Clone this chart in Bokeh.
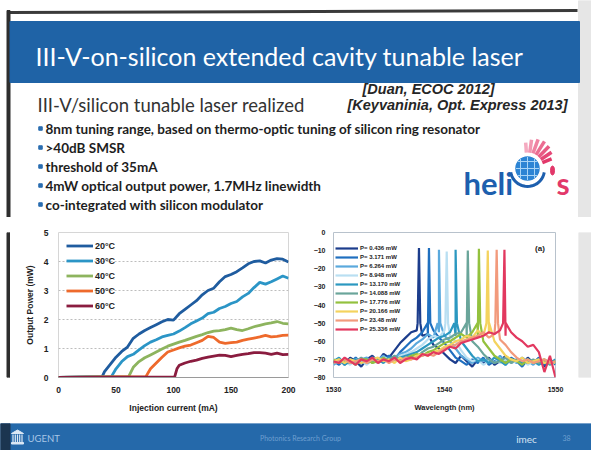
import math
from bokeh.plotting import figure
from bokeh.layouts import column, row
from bokeh.models import Range1d, Legend, LegendItem, FixedTicker
from bokeh.embed import file_html
from bokeh.resources import INLINE
from bokeh.core.properties import value

# ---------------- slide text ----------------
TITLE = "III-V-on-silicon extended cavity tunable laser"
SUBTITLE = "III-V/silicon tunable laser realized"
REF_1 = "[Duan, ECOC 2012]"
REF_2 = "[Keyvaninia, Opt. Express 2013]"
BULLETS = [
    "8nm tuning range, based on thermo-optic tuning of silicon ring resonator",
    ">40dB SMSR",
    "threshold of 35mA",
    "4mW optical output power, 1.7MHz linewidth",
    "co-integrated with silicon modulator",
]

# ---------------- L-I curves (output power vs. injection current) ----------------
LI_LABELS = ["20°C", "30°C", "40°C", "50°C", "60°C"]
LI_COLORS = ["#1f5c9f", "#2b95c6", "#8db45e", "#ee6a2c", "#8a1c3f"]

I_20 = [0, 38, 40] + list(range(45, 205, 5))
P_20 = [0, 0.03, 0.2, 0.45, 0.7, 0.9, 1.05, 1.35, 1.5, 1.62, 1.72, 1.82, 1.92,
        2.0, 1.98, 2.2, 2.35, 2.5, 2.65, 2.85, 3.0, 3.08, 3.3,
        3.48, 3.55, 3.65, 3.78, 3.92, 4.0, 4.02, 3.95, 4.05, 4.1, 4.08, 3.98]

I_30 = [0, 46] + list(range(50, 205, 5))
P_30 = [0, 0.03, 0.3, 0.55, 0.72, 0.8, 0.95, 1.1, 1.22, 1.3, 1.4, 1.45,
        1.5, 1.6, 1.72, 1.85, 1.95, 2.05, 2.2, 2.25, 2.38, 2.45,
        2.55, 2.62, 2.78, 2.9, 3.1, 3.28, 3.22, 3.3, 3.4, 3.5, 3.42]

I_40 = [0, 61] + list(range(65, 205, 5))
P_40 = [0, 0.03, 0.35, 0.55, 0.68, 0.78, 0.88, 0.98, 1.08, 1.15, 1.22, 1.28,
        1.35, 1.42, 1.48, 1.55, 1.6, 1.62, 1.65, 1.7, 1.65, 1.62,
        1.68, 1.75, 1.8, 1.85, 1.88, 1.93, 1.87, 1.85]

I_50 = [0, 76] + list(range(80, 205, 5))
P_50 = [0, 0.03, 0.3, 0.5, 0.7, 0.88, 0.95, 1.02, 1.08, 1.12, 1.2, 1.28,
        1.42, 1.38, 1.22, 1.18, 1.2, 1.22, 1.28, 1.32, 1.36, 1.4,
        1.45, 1.4, 1.42, 1.45, 1.46]

I_60 = [0, 101, 103] + list(range(105, 205, 5))
P_60 = [0, 0.02, 0.3, 0.42, 0.5, 0.56, 0.6, 0.66, 0.7, 0.74, 0.77, 0.76, 0.72,
        0.76, 0.8, 0.82, 0.86, 0.86, 0.84, 0.8, 0.84, 0.79, 0.8]

LI_CURRENTS = [I_20, I_30, I_40, I_50, I_60]
LI_POWERS = [P_20, P_30, P_40, P_50, P_60]
LI_TICKS_X = [0, 50, 100, 150, 200]
LI_TICKS_Y = [0, 1, 2, 3, 4, 5]

# ---------------- lasing spectra ----------------
WL_GRID = [round(1530 + 0.5 * i, 1) for i in range(41)]
SPEC_LABELS = ["P= 0.436 mW", "P= 3.171 mW", "P= 6.264 mW", "P= 8.948 mW",
               "P= 13.170 mW", "P= 14.088 mW", "P= 17.776 mW", "P= 20.166 mW",
               "P= 23.48 mW", "P= 25.336 mW"]
SPEC_COLORS = ["#1c3d8c", "#1f6fbf", "#5aa9dd", "#b9dff2", "#2b98c0",
               "#6aa59a", "#93c13e", "#f4d35e", "#f29a7c", "#e2385f"]
SPEC_PEAK_WL = [1537.7, 1538.6, 1539.5, 1540.2, 1541.0,
                1542.1, 1543.1, 1543.9, 1544.7, 1545.4]
SPEC_PEAK_DBM = [-8.5, -8.5, -9.5, -10.5, -9.5, -10.0, -9.0, -10.0, -9.5, -9.5]
SPEC_SHOULDER_DBM = -50

FLOOR_1 = [-72, -70, -73, -69, -71, -74, -70, -68, -71, -67, -69, -65, -61, -58, -55, -54, -57, -56, -62, -64,
           -67, -70, -72, -68, -71, -74, -70, -72, -69, -73, -71, -68, -72, -70, -73, -69, -72, -70, -74, -71, -72]
FLOOR_2 = [-71, -73, -70, -72, -69, -72, -71, -69, -72, -70, -68, -70, -66, -63, -60, -58, -55, -57, -54, -58,
           -61, -65, -69, -71, -73, -70, -72, -69, -73, -71, -70, -73, -69, -71, -74, -70, -72, -69, -73, -70, -73]
FLOOR_3 = [-73, -71, -72, -70, -73, -70, -69, -72, -70, -68, -71, -69, -67, -66, -64, -61, -59, -56, -58, -55,
           -57, -60, -64, -68, -70, -72, -69, -71, -70, -72, -68, -71, -70, -72, -69, -71, -73, -70, -72, -71, -72]
FLOOR_4 = [-70, -72, -71, -73, -70, -71, -73, -70, -72, -69, -70, -71, -68, -67, -66, -64, -62, -59, -57, -58,
           -54, -57, -60, -65, -69, -71, -70, -73, -71, -69, -72, -70, -72, -71, -70, -73, -71, -72, -70, -72, -71]
FLOOR_5 = [-71, -69, -73, -71, -70, -72, -71, -69, -70, -72, -69, -70, -69, -68, -67, -66, -64, -62, -60, -58,
           -57, -55, -57, -60, -64, -68, -71, -70, -72, -69, -71, -73, -70, -71, -72, -70, -71, -73, -71, -72, -70]
FLOOR_6 = [-72, -70, -71, -72, -71, -69, -72, -71, -70, -71, -70, -68, -70, -69, -68, -69, -66, -64, -63, -61,
           -59, -58, -56, -55, -57, -60, -63, -67, -70, -72, -71, -69, -72, -70, -71, -72, -70, -72, -71, -73, -71]
FLOOR_7 = [-70, -72, -70, -71, -73, -70, -70, -72, -71, -69, -71, -70, -71, -70, -68, -67, -68, -66, -65, -63,
           -61, -60, -58, -56, -58, -55, -57, -60, -64, -68, -70, -72, -70, -71, -73, -70, -72, -71, -70, -72, -71]
FLOOR_8 = [-71, -70, -72, -70, -71, -72, -71, -70, -69, -71, -70, -72, -69, -71, -70, -68, -67, -68, -66, -65,
           -63, -62, -60, -59, -57, -58, -54, -57, -56, -60, -64, -68, -70, -71, -69, -72, -71, -70, -72, -71, -72]
FLOOR_9 = [-72, -71, -70, -72, -71, -70, -72, -70, -71, -70, -72, -70, -71, -69, -70, -69, -68, -67, -68, -66,
           -64, -63, -62, -60, -59, -58, -57, -55, -58, -56, -59, -62, -66, -69, -71, -70, -72, -71, -70, -72, -71]
FLOOR_10 = [-71, -72, -69, -71, -73, -70, -71, -69, -72, -70, -71, -69, -72, -70, -69, -70, -67, -68, -66, -67,
            -65, -63, -64, -61, -60, -59, -58, -57, -55, -56, -54, -57, -55, -58, -60, -63, -62, -66, -77, -68, -80]
SPEC_FLOORS = [FLOOR_1, FLOOR_2, FLOOR_3, FLOOR_4, FLOOR_5,
               FLOOR_6, FLOOR_7, FLOOR_8, FLOOR_9, FLOOR_10]
SPEC_TICKS_X = [1530, 1540, 1550]
SPEC_TICKS_Y = [0, -10, -20, -30, -40, -50, -60, -70, -80]

# ---------------- styling ----------------
SLIDE_BLUE = "#1f63a6"
FOOT_BLUE = "#2569aa"
EDGE = "#2e2e2e"
SIDE_GRAY = "#e6e6e6"
SLIDE_FONT = "Lato"
CHART_FONT = "Liberation Sans"


def canvas(w, h, x0, x1, y_top, y_bottom):
    """Blank drawing surface in pixel-like coordinates (y grows downwards)."""
    f = figure(width=w, height=h, x_range=Range1d(x0, x1), y_range=Range1d(y_bottom, y_top),
               x_axis_type=None, y_axis_type=None, toolbar_location=None,
               output_backend="svg", min_border=0,
               background_fill_color="white", border_fill_color="white")
    f.outline_line_color = None
    return f


# ---------------- header: title bar, text, logo ----------------
hdr = canvas(591, 217, 0, 591, 0, 217)
hdr.quad(left=578, right=591, top=0, bottom=217, color=SIDE_GRAY)
hdr.line([8, 577], [12, 10], line_width=3, line_color="#3a3a3a")
hdr.quad(left=6.5, right=9.5, top=10, bottom=217, color=EDGE)
hdr.quad(left=9.5, right=579, top=21, bottom=82, color=SLIDE_BLUE)

hdr.text(x=[35], y=[55], text=[TITLE], text_font=value(SLIDE_FONT), text_font_size="25px",
         text_color="white", text_baseline="middle")
hdr.text(x=[37], y=[104], text=[SUBTITLE], text_font=value(SLIDE_FONT), text_font_size="18.5px",
         text_color="#333333", text_baseline="middle")
hdr.text(x=[362, 347], y=[88, 104], text=[REF_1, REF_2], text_font=value(CHART_FONT),
         text_font_size="14.5px", text_font_style="bold italic", text_color="#262626",
         text_baseline="middle")

bullet_y = [128, 147, 166, 185, 204]
hdr.scatter(x=[40] * len(BULLETS), y=bullet_y, marker="square", size=3.5,
            color="#2a6db0")
hdr.text(x=[45] * len(BULLETS), y=bullet_y, text=BULLETS, text_font=value(SLIDE_FONT),
         text_font_size="13.5px", text_font_style="bold", text_color="#1e1e1e",
         text_baseline="middle")

# helios logo
cx, cy, R = 527, 168, 13
ray_angles = [22, 34, 46, 58, 70, 82, 94]
ray_len = [26, 29, 31, 32, 31, 29, 26]
ray_cols = ["#e2386a", "#e54877", "#e85a84", "#ec6d92", "#ef82a2", "#f296b1", "#f4aac0"]
for a, L, c in zip(ray_angles, ray_len, ray_cols):
    r = math.radians(a)
    hdr.line([cx + 16 * math.cos(r), cx + L * math.cos(r)],
             [cy - 16 * math.sin(r), cy - L * math.sin(r)],
             line_width=3.5, line_color=c)
sw = [math.radians(a) for a in range(190, 352, 8)]
hdr.line([cx + 17 * math.cos(a) for a in sw], [cy - 17 * math.sin(a) + 1 for a in sw],
         line_width=3, line_color="#1d5fae")
hdr.circle(x=[cx], y=[cy], radius=R, fill_color="#2c84d4", line_color="white", line_width=1.5)
for d in (-7, 0, 7):
    half = math.sqrt(R * R - d * d) - 1.5
    hdr.line([cx + d, cx + d], [cy - half, cy + half], line_color="#a8d4f6", line_width=1)
    hdr.line([cx - half, cx + half], [cy + d, cy + d], line_color="#a8d4f6", line_width=1)
hdr.text(x=[463], y=[182], text=["heli"], text_font=value(SLIDE_FONT), text_font_size="31px",
         text_font_style="bold", text_color="#1d5fae", text_baseline="alphabetic")
hdr.ellipse(x=[552], y=[170], width=4, height=9, color="#e2386a")
hdr.text(x=[556], y=[182], text=["s"], text_font=value(SLIDE_FONT), text_font_size="30px",
         text_font_style="bold", text_color="#e2386a", text_baseline="alphabetic")

# ---------------- left chart: L-I curves ----------------
li = figure(width=290, height=206, x_range=Range1d(0, 200), y_range=Range1d(0, 5),
            toolbar_location=None, output_backend="svg",
            min_border_left=48, min_border_right=12, min_border_top=15, min_border_bottom=46,
            background_fill_color="white", border_fill_color="white")
li.outline_line_color = "#d6d6d6"
li.xgrid.visible = False
li.ygrid.grid_line_color = "#bdbdbd"
li.ygrid.grid_line_dash = "2 2"
li.xaxis.ticker = FixedTicker(ticks=LI_TICKS_X)
li.yaxis.ticker = FixedTicker(ticks=LI_TICKS_Y)
li.xaxis.axis_label = "Injection current (mA)"
li.yaxis.axis_label = "Output Power (mW)"
li.xaxis.axis_line_color = "#9a9a9a"
li.yaxis.axis_line_color = None
li.xaxis.major_label_standoff = 9
li.xaxis.axis_label_standoff = 7
li.yaxis.major_label_standoff = 10
li.yaxis.axis_label_standoff = 6
for ax in (li.xaxis[0], li.yaxis[0]):
    ax.major_tick_line_color = None
    ax.minor_tick_line_color = None
    ax.major_tick_out = 0
    ax.major_label_text_font = CHART_FONT
    ax.major_label_text_font_style = "bold"
    ax.major_label_text_font_size = "8.5px"
    ax.major_label_text_color = "#222222"
    ax.axis_label_text_font = CHART_FONT
    ax.axis_label_text_font_style = "bold"
    ax.axis_label_text_font_size = "8.5px"
    ax.axis_label_text_color = "#222222"

li_items = []
for lab, col, xs, ys in zip(LI_LABELS, LI_COLORS, LI_CURRENTS, LI_POWERS):
    r = li.line(xs, ys, line_color=col, line_width=2.8)
    li_items.append(LegendItem(label=lab, renderers=[r]))
li_leg = Legend(items=li_items, location=(8, 64), glyph_width=27, glyph_height=15,
                label_height=15, spacing=0, padding=2, margin=0, label_standoff=2,
                background_fill_alpha=0, border_line_color=None,
                label_text_font=CHART_FONT, label_text_font_style="bold",
                label_text_font_size="9px", label_text_color="#222222")
li.add_layout(li_leg)

# ---------------- right chart: tuned lasing spectra ----------------
sp = figure(width=278, height=206, x_range=Range1d(1530, 1550), y_range=Range1d(-80, 0),
            toolbar_location=None, output_backend="svg",
            min_border_left=33, min_border_right=23, min_border_top=15, min_border_bottom=44,
            background_fill_color="white", border_fill_color="white")
sp.outline_line_color = "#b8c2cc"
sp.grid.visible = False
sp.xaxis.ticker = FixedTicker(ticks=SPEC_TICKS_X)
sp.yaxis.ticker = FixedTicker(ticks=SPEC_TICKS_Y)
sp.xaxis.axis_label = "Wavelength (nm)"
sp.xaxis.major_label_standoff = 9
sp.xaxis.axis_label_standoff = 8
sp.yaxis.major_label_standoff = 8
for ax in (sp.xaxis[0], sp.yaxis[0]):
    ax.axis_line_color = None
    ax.major_tick_line_color = None
    ax.minor_tick_line_color = None
    ax.major_tick_out = 0
    ax.major_label_text_font = CHART_FONT
    ax.major_label_text_font_style = "bold"
    ax.major_label_text_font_size = "7px"
    ax.major_label_text_color = "#222222"
    ax.axis_label_text_font = CHART_FONT
    ax.axis_label_text_font_style = "bold"
    ax.axis_label_text_font_size = "7.5px"
    ax.axis_label_text_color = "#222222"

sp_items = []
for lab, col, floor, pk, pk_db in zip(SPEC_LABELS, SPEC_COLORS, SPEC_FLOORS,
                                      SPEC_PEAK_WL, SPEC_PEAK_DBM):
    pts = list(zip(WL_GRID, floor)) + [(pk - 0.12, SPEC_SHOULDER_DBM), (pk, pk_db),
                                       (pk + 0.12, SPEC_SHOULDER_DBM)]
    pts.sort()
    r = sp.line([p[0] for p in pts], [p[1] for p in pts], line_color=col, line_width=2.2)
    sp_items.append(LegendItem(label=lab, renderers=[r]))
sp_leg = Legend(items=sp_items, location=(2, 44), glyph_width=23, glyph_height=8,
                label_height=8, spacing=1, padding=2, margin=0, label_standoff=2,
                background_fill_alpha=0, border_line_color=None,
                label_text_font=CHART_FONT, label_text_font_style="bold",
                label_text_font_size="6px", label_text_color="#222222")
sp.add_layout(sp_leg)
sp.text(x=[1548.6], y=[-8.7], text=["(a)"], text_font=value(CHART_FONT),
        text_font_size="8px", text_font_style="bold", text_color="#222222",
        text_align="center", text_baseline="middle")

# edge strips beside the charts
edge_l = canvas(10, 206, 0, 10, 217, 423)
edge_l.quad(left=6.5, right=9.5, top=217, bottom=423, color=EDGE)
edge_r = canvas(13, 206, 578, 591, 217, 423)
edge_r.quad(left=578, right=591, top=217, bottom=423, color=SIDE_GRAY)

# ---------------- footer ----------------
ftr = canvas(591, 27, 0, 591, 423, 450)
ftr.quad(left=0, right=591, top=423, bottom=450, color=FOOT_BLUE)
ftr.quad(left=0, right=9.5, top=423, bottom=450, color="#1b3550")
ftr.patch([11, 17, 23], [433, 429.5, 433], color="#dbe8f5")
ftr.segment(x0=[12.5, 14.8, 17, 19.2, 21.5], y0=[434] * 5, x1=[12.5, 14.8, 17, 19.2, 21.5],
            y1=[442] * 5, line_color="#dbe8f5", line_width=1.2)
ftr.quad(left=11, right=23, top=442, bottom=443.5, color="#dbe8f5")
ftr.text(x=[27], y=[438], text=["UGENT"], text_font=value(SLIDE_FONT), text_font_size="9.5px",
         text_color="#a8c6e6", text_baseline="middle")
ftr.text(x=[300], y=[437], text=["Photonics Research Group"], text_font=value(SLIDE_FONT),
         text_font_size="7px", text_color="#6e9fd0", text_align="center", text_baseline="middle")
ftr.text(x=[526], y=[438], text=["imec"], text_font=value(SLIDE_FONT), text_font_size="10px",
         text_color="#d5e4f2", text_align="center", text_baseline="middle")
ftr.text(x=[566], y=[437], text=["38"], text_font=value(SLIDE_FONT), text_font_size="7px",
         text_color="#6e9fd0", text_align="center", text_baseline="middle")

page = column(hdr, row(edge_l, li, sp, edge_r, spacing=0), ftr, spacing=0)

open("out.html", "w").write(file_html(page, INLINE))
